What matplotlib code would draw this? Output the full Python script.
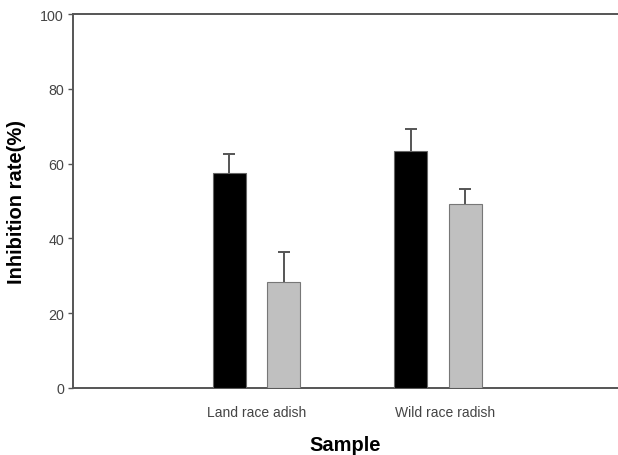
"""Inhibition rate by sample: two bars per group with upward error bars."""
import matplotlib

matplotlib.use("Agg")
import matplotlib.pyplot as plt
import numpy as np

samples = ["Land race adish", "Wild race radish"]
black_vals = [57.6, 63.4]
black_err = [5.0, 5.9]
gray_vals = [28.3, 49.2]
gray_err = [8.1, 4.0]

plt.rcParams["font.family"] = ["Liberation Sans", "DejaVu Sans"]

fig = plt.figure(figsize=(6.18, 4.56), dpi=100)
ax = fig.add_axes([0.118, 0.147, 0.882, 0.820])

x = np.arange(1, len(samples) + 1)
width = 0.182
offset = 0.15

for pos, vals, errs, face, edge in [
    (x - offset, black_vals, black_err, "black", "#666666"),
    (x + offset, gray_vals, gray_err, "#c0c0c0", "#777777"),
]:
    ax.bar(pos, vals, width, color=face, edgecolor=edge, linewidth=0.8, zorder=3)
    # upper-only error bars: drop the cap drawn at the bar top
    _, caps, _ = ax.errorbar(pos, vals, yerr=[np.zeros(len(pos)), errs], fmt="none",
                             ecolor="#555555", elinewidth=1.4, capsize=4.5,
                             capthick=1.4, zorder=2)
    caps[0].set_visible(False)

ax.set_xlim(-0.01, 2.99)
ax.set_ylim(0, 100)
ax.set_yticks(np.arange(0, 101, 20))
ax.set_xticks(x + np.array([0.0, 0.04]))
ax.set_xticklabels(samples)

for side in ("left", "bottom", "top"):
    ax.spines[side].set_color("#555555")
    ax.spines[side].set_linewidth(1.4)
ax.spines["right"].set_visible(False)

ax.tick_params(axis="y", length=3.5, width=1.0, color="#555555", labelsize=10.3,
               labelcolor="#444444", pad=3)
ax.tick_params(axis="x", length=0, labelsize=10, labelcolor="#444444", pad=12)

ax.set_xlabel("Sample", fontsize=14.5, fontweight="bold", labelpad=12)
ax.set_ylabel("Inhibition rate(%)", fontsize=14.5, fontweight="bold", labelpad=10)

fig.savefig("out.png", dpi=100)
